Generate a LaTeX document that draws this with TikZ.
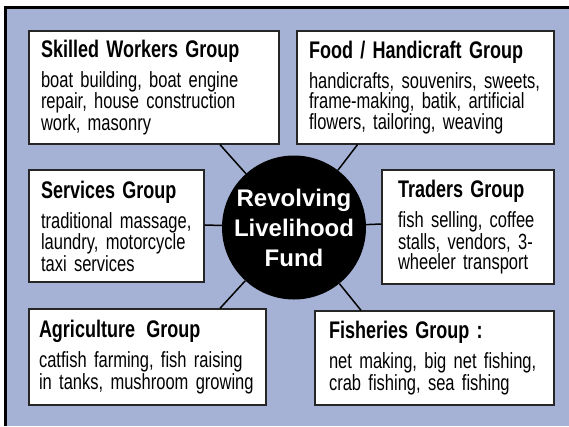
\documentclass[tikz,border=0pt]{standalone}
\usepackage{fontspec}
\setmainfont[FakeStretch=0.75]{Liberation Sans}
\newfontfamily\hubfont{Liberation Sans}
\usetikzlibrary{calc}
\definecolor{fundblue}{RGB}{165,178,213}
\newcommand\grptitle[1]{{\fontsize{24}{28}\selectfont\bfseries #1}}
\tikzset{
  grp/.style={draw=black!85, line width=1.3pt, fill=white, align=left,
    inner xsep=12pt, inner ysep=0pt, font=\fontsize{22}{20}\selectfont},
  spoke/.style={line width=1.5pt},
}

\begin{document}
\setlength{\lineskiplimit}{-10pt}
\begin{tikzpicture}[x=1pt, y=-1pt]
  \useasboundingbox (0,0) rectangle (569,426);
  \fill[fundblue] (5.5,7.5) rectangle (569,426);
  \draw[line width=3pt] (5.5,426) -- (5.5,7.5) -- (569,7.5);

  \node[grp, text width=226pt, minimum height=113pt] at (154,87.5) (skilled){%
    \grptitle{Skilled Workers Group}\\[8pt]
    boat building, boat engine\\
    repair, house construction\\
    work, masonry};
  \node[grp, text width=233pt, minimum height=113pt] at (425.5,87.5) (food){%
    \grptitle{Food / Handicraft Group}\\[8pt]
    handicrafts, souvenirs, sweets,\\
    frame-making, batik, artificial\\
    flowers, tailoring, weaving};
  \node[grp, text width=151pt, minimum height=112pt] at (116.5,226) (services){%
    \grptitle{Services Group}\\[8pt]
    traditional massage,\\
    laundry, motorcycle\\
    taxi services};
  \node[grp, inner xsep=16pt, text width=140pt, minimum height=114pt]
    at (468,227) (traders){%
    \grptitle{Traders Group}\\[8pt]
    fish selling, coffee\\
    stalls, vendors, 3-\\
    wheeler transport};
  \node[grp, inner xsep=10pt, text width=217pt, minimum height=96pt]
    at (147.5,357) (agri){%
    \grptitle{Agriculture\hspace{4pt} Group}\\[8pt]
    catfish farming, fish raising\\
    in tanks, mushroom growing};
  \node[grp, inner xsep=14pt, text width=211pt, minimum height=94pt]
    at (434.5,358) (fish){%
    \grptitle{Fisheries Group :}\\[8pt]
    net making, big net fishing,\\
    crab fishing, sea fishing};

  \node[circle, fill=black, minimum size=144pt, inner sep=0pt, text=white,
    align=center, font=\hubfont\bfseries\fontsize{24}{30}\selectfont]
    at (294,227.5) (hub) {Revolving\\Livelihood\\Fund};

  \draw[spoke] (hub) -- ([xshift=66pt]skilled.south);
  \draw[spoke] (hub) -- ([xshift=-68pt]food.south);
  \draw[spoke] (hub) -- ([yshift=1pt]services.east);
  \draw[spoke] (hub) -- ([yshift=3pt]traders.west);
  \draw[spoke] (hub) -- ([xshift=72.5pt]agri.north);
  \draw[spoke] (hub) -- ([xshift=-73.5pt]fish.north);
\end{tikzpicture}
\end{document}
